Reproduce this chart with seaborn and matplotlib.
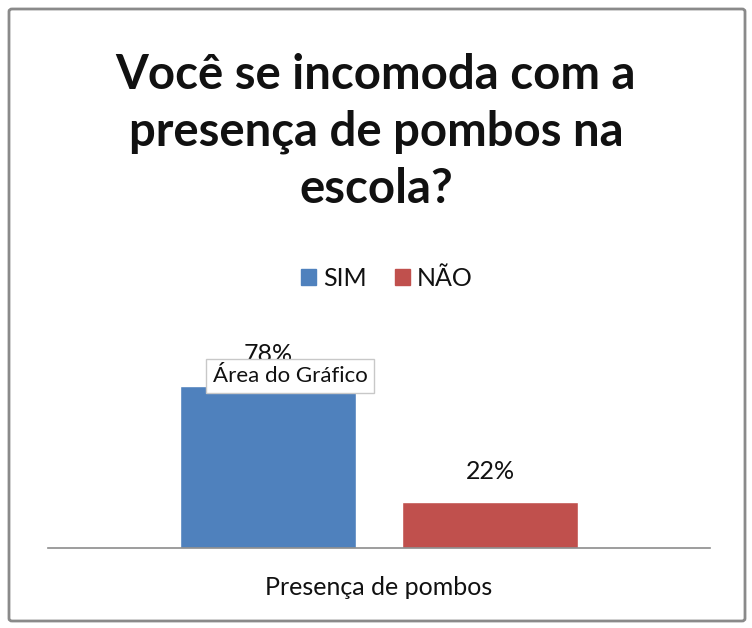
import pandas as pd
import seaborn as sns
import matplotlib.pyplot as plt
from matplotlib.patches import FancyBboxPatch

# data
grupo = ["Presença de pombos", "Presença de pombos"]
respostas = ["SIM", "NÃO"]
percentuais = [78, 22]
cores = ["#4F81BD", "#C0504D"]

df = pd.DataFrame({"grupo": grupo, "resposta": respostas, "pct": percentuais})

sns.set_style("white")
plt.rcParams["font.family"] = ["Lato", "DejaVu Sans"]

fig = plt.figure(figsize=(7.52, 6.28), dpi=100)
ax = fig.add_axes([48 / 752, 80 / 628, 662 / 752, 187 / 628])

sns.barplot(data=df, x="grupo", y="pct", hue="resposta", palette=cores,
            saturation=1, width=0.8, gap=0.21, ax=ax, legend=False)

ax.set_ylim(0, 90)
ax.set_xlim(-0.596, 0.596)
ax.set_xlabel("")
ax.set_ylabel("")
ax.set_yticks([])
ax.tick_params(axis="x", length=0, pad=20, labelsize=18, labelcolor="#111111")
for s in ["left", "right", "top"]:
    ax.spines[s].set_visible(False)
ax.spines["bottom"].set_color("#8c8c8c")
ax.spines["bottom"].set_linewidth(1.2)

for cont in ax.containers:
    ax.bar_label(cont, fmt="%d%%", padding=14, fontsize=18, color="#111111")

# title
fig.text(0.5, 1 - 53 / 628, "Você se incomoda com a\npresença de pombos na\nescola?",
         ha="center", va="top", fontsize=34, fontweight="bold", linespacing=1.36,
         color="#111111")

# legend
handles = [plt.Rectangle((0, 0), 1, 1, color=c) for c in cores]
fig.legend(handles, respostas, loc="center", bbox_to_anchor=(387 / 752, 1 - 278 / 628),
           ncol=2, frameon=False, fontsize=18, handlelength=0.6, handleheight=0.6,
           handletextpad=0.3, columnspacing=1.1, labelcolor="#111111")

# tooltip
fig.text(213 / 752, 1 - 376 / 628, "Área do Gráfico", ha="left", va="center", fontsize=16,
         color="#111111", zorder=10,
         bbox=dict(boxstyle="square,pad=0.3", facecolor="white", edgecolor="#c8c8c8"))

# outer border
fig.patches.append(FancyBboxPatch((9 / 752, 7 / 628), 736 / 752, 612 / 628,
                                  boxstyle="round,pad=0,rounding_size=0.004",
                                  transform=fig.transFigure, fill=False,
                                  edgecolor="#8a8a8a", linewidth=2))

fig.savefig("out.png", dpi=100)
